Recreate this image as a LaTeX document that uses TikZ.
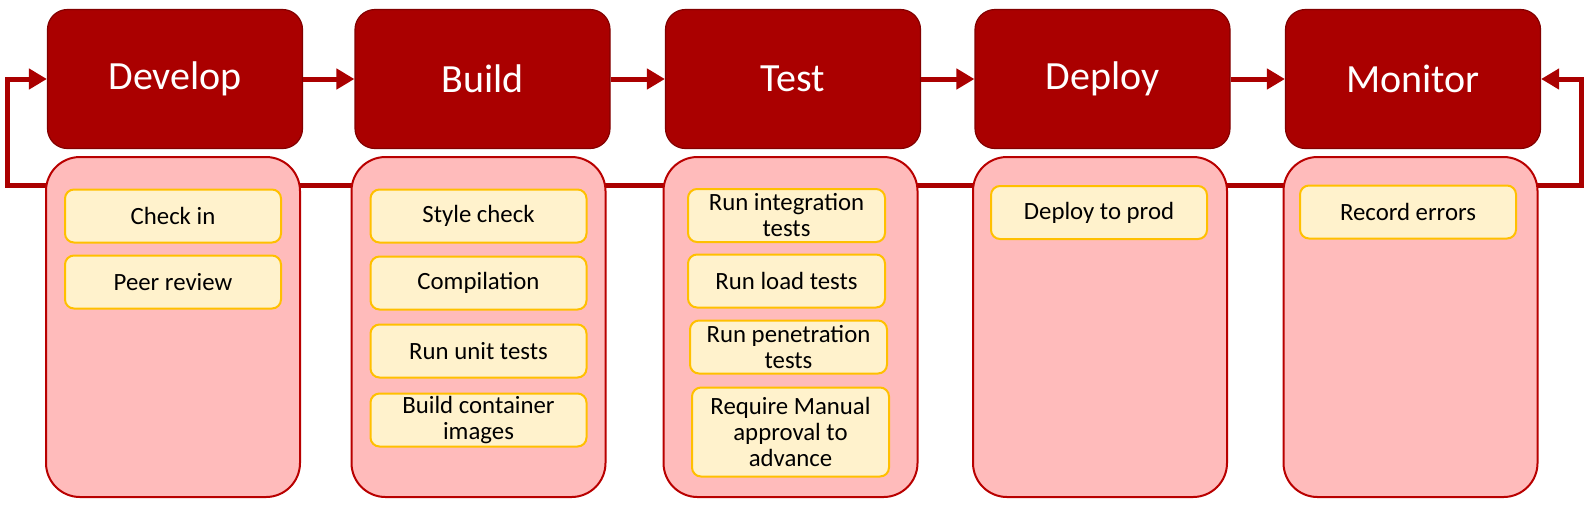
\documentclass[tikz,border=0pt]{standalone}
\usepackage{fontspec}
\setmainfont{Carlito}
\usepackage{xcolor}
\usetikzlibrary{positioning,shapes,arrows.meta}

\definecolor{stagered}{RGB}{170,0,0}
\definecolor{stageedge}{RGB}{130,0,0}
\definecolor{lanepink}{RGB}{255,187,187}
\definecolor{laneedge}{RGB}{185,0,0}
\definecolor{taskfill}{RGB}{255,242,204}
\definecolor{taskedge}{RGB}{255,192,0}

\tikzset{
  stage/.style={draw=stageedge, fill=stagered, rounded corners=10pt, line width=0.6pt,
    minimum width=127.5pt, minimum height=69.5pt, text=white, font=\fontsize{20}{24}\selectfont},
  lane/.style={draw=laneedge, fill=lanepink, rounded corners=17pt, line width=1pt,
    minimum width=127pt, minimum height=170pt},
  task/.style={draw=taskedge, fill=taskfill, rounded corners=4.5pt, line width=1pt,
    minimum width=108pt, minimum height=26.5pt, inner sep=1pt, align=center,
    font=\fontsize{12.4}{13}\selectfont},
  flow/.style={draw=stagered, line width=2.5pt, -{Triangle[length=9pt,width=10pt]}}
}

\begin{document}
\begin{tikzpicture}[x=0.5pt, y=-0.5pt]
    \useasboundingbox (0,0) rectangle (1588,510);

    % pipeline stages
    \foreach \n/\l/\x in {develop/Develop/175, build/Build/482.5, test/Test/793, deploy/Deploy/1102.5, monitor/Monitor/1413}
      \node [stage] (\n) at (\x,79) {\l};

    % feedback loop from monitor back to develop
    \coordinate (loop-l) at (7,185);
    \coordinate (loop-r) at (1581,185);
    \draw [flow, {Triangle[length=9pt,width=10pt]}-{Triangle[length=9pt,width=10pt]}]
      (develop.west) -| (loop-l) -- (loop-r) |- (monitor.east);

    % lanes under each stage
    \foreach \n/\x in {develop/173, build/478.5, test/790.5, deploy/1100, monitor/1410.5}
      \node [lane] (\n-lane) at (\x,327) {};

    % tasks
    \foreach \n/\x/\y/\t in {checkin/173/216/{Check in}, review/173/282/{Peer review},
        style/478.5/216/{Style check}, compile/478.5/283/{Compilation},
        unit/478.5/351/{Run unit tests}, images/478.5/420/{Build container\\images},
        deploy/1099/212.5/{Deploy to prod}, errors/1408/212/{Record errors}}
      \node [task] (\n-task) at (\x,\y) {\t};

    \foreach \n/\x/\y/\t in {integ/786.5/215.5/{Run integration\\tests}, load/786.5/281/{Run load tests},
        pen/788.5/347/{Run penetration\\tests}}
      \node [task, minimum width=98.5pt] (\n-task) at (\x,\y) {\t};
    \node [task, minimum width=98.5pt, minimum height=44.5pt] (manual-task) at (790.5,432)
      {Require Manual\\approval to\\advance};

    % stage to stage
    \foreach \a/\b in {develop/build, build/test, test/deploy, deploy/monitor}
      \draw [flow] (\a) -- (\b);
\end{tikzpicture}
\end{document}
